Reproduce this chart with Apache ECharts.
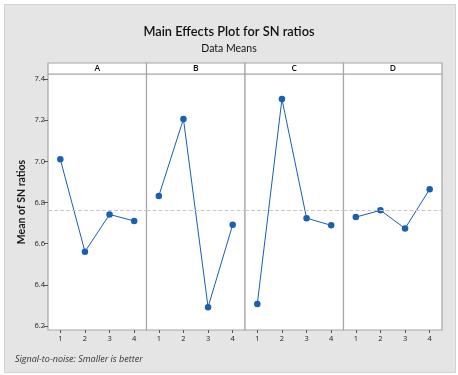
<!DOCTYPE html>
<html>
<head>
<meta charset="utf-8">
<style>
  html, body { margin: 0; padding: 0; background: #ffffff; }
  #chart { width: 458px; height: 375px; }
</style>
<script src="https://cdn.jsdelivr.net/npm/echarts@6/dist/echarts.min.js"></script>
</head>
<body>
<div id="chart"></div>
<script>
// Factor names and levels
const factors = ['A', 'B', 'C', 'D'];
const levels = ['1', '2', '3', '4'];

// Mean SN ratio for each factor level
const meansA = [7.010, 6.561, 6.742, 6.710];
const meansB = [6.832, 7.206, 6.291, 6.692];
const meansC = [6.307, 7.303, 6.724, 6.689];
const meansD = [6.729, 6.762, 6.674, 6.865];

// Y tick labels
const yTicks = [6.2, 6.4, 6.6, 6.8, 7.0, 7.2, 7.4];

const seriesValues = [meansA, meansB, meansC, meansD];

// Grand mean across all levels (reference line)
const all = seriesValues.flat();
const grandMean = all.reduce((s, v) => s + v, 0) / all.length;

const chart = echarts.init(document.getElementById('chart'), null, { renderer: 'canvas' });

const FONT = 'Open Sans';
const TITLE_FONT = 'Lato';
const panelLeft = 48, panelTop = 74, panelH = 256, panelW = 98.5, stripH = 11;
const lineBlue = '#1a5fb0';
const frameGray = '#a6a6a6';

const grids = [], xAxes = [], yAxes = [], series = [], graphics = [];

// outer gray backdrop
graphics.push({
  type: 'rect', z: -10, silent: true,
  shape: { x: 4.5, y: 4.5, width: 451, height: 368 },
  style: { fill: '#e5e5e5', stroke: '#d2d2d2', lineWidth: 1 }
});

factors.forEach((f, i) => {
  const left = panelLeft + i * panelW;
  grids.push({
    left: left, top: panelTop, width: panelW, height: panelH,
    show: true, backgroundColor: '#ffffff', borderColor: frameGray, borderWidth: 1.2
  });
  xAxes.push({
    type: 'category', gridIndex: i, data: levels, boundaryGap: true,
    axisLine: { show: false },
    axisTick: { show: true, alignWithLabel: true, length: 3, lineStyle: { color: '#555' } },
    axisLabel: { color: '#222', fontSize: 7.5, fontFamily: FONT, margin: 5 },
    splitLine: { show: false }
  });
  yAxes.push({
    type: 'value', gridIndex: i, min: 6.18, max: 7.425,
    axisLine: { show: false },
    axisTick: { show: i === 0, length: 4, customValues: yTicks, lineStyle: { color: '#555' } },
    axisLabel: {
      show: i === 0, customValues: yTicks, color: '#222', fontSize: 7.5, fontFamily: FONT, margin: 3,
      formatter: v => v.toFixed(1)
    },
    splitLine: { show: false },
    name: i === 0 ? 'Mean of SN ratios' : '',
    nameLocation: 'middle', nameGap: 21, nameRotate: 90,
    nameTextStyle: { color: '#1a1a1a', fontSize: 10.5, fontWeight: 'bold', fontFamily: TITLE_FONT }
  });
  series.push({
    type: 'line', xAxisIndex: i, yAxisIndex: i, data: seriesValues[i],
    symbol: 'circle', symbolSize: 6.5,
    itemStyle: { color: lineBlue },
    lineStyle: { color: lineBlue, width: 1 },
    markLine: {
      silent: true, symbol: 'none', label: { show: false },
      lineStyle: { color: '#c8c8c8', type: 'dashed', width: 1 },
      data: [{ yAxis: grandMean }]
    },
    z: 3
  });
  // strip header with factor name
  graphics.push({
    type: 'rect', silent: true,
    shape: { x: left, y: panelTop - stripH, width: panelW, height: stripH },
    style: { fill: '#ffffff', stroke: frameGray, lineWidth: 1.2 }
  });
  graphics.push({
    type: 'text', silent: true,
    x: left + panelW / 2, y: panelTop - stripH / 2,
    style: { text: f, fill: '#111', font: '600 8.5px "' + FONT + '"', align: 'center', verticalAlign: 'middle' }
  });
});

// footnote
graphics.push({
  type: 'text', silent: true, x: 15, y: 359,
  style: { text: 'Signal-to-noise: Smaller is better', fill: '#333', font: 'italic 9px "' + FONT + '"', verticalAlign: 'middle' }
});

chart.setOption({
  backgroundColor: '#ffffff',
  animation: false,
  title: {
    text: 'Main Effects Plot for SN ratios',
    subtext: 'Data Means',
    left: 'center', top: 20,
    itemGap: 5,
    textStyle: { fontFamily: TITLE_FONT, fontSize: 12.8, fontWeight: 600, color: '#111' },
    subtextStyle: { fontFamily: TITLE_FONT, fontSize: 10.5, color: '#111' }
  },
  grid: grids,
  xAxis: xAxes,
  yAxis: yAxes,
  series: series,
  graphic: graphics
});
</script>
</body>
</html>
